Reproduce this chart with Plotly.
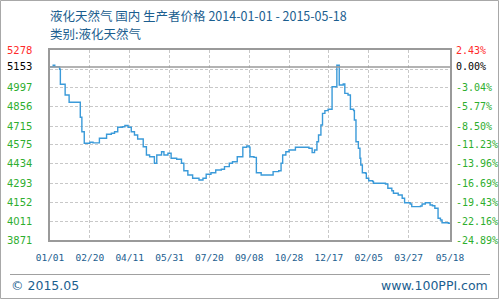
import plotly.graph_objects as go

# ---- data ----
dates = [
    "2014-01-01", "2014-01-05", "2014-01-07", "2014-01-13", "2014-01-14", "2014-01-20", "2014-01-25",
    "2014-02-07", "2014-02-08", "2014-02-10", "2014-02-13", "2014-02-20", "2014-02-24", "2014-03-04",
    "2014-03-13", "2014-03-19", "2014-03-23", "2014-03-27", "2014-04-02", "2014-04-05", "2014-04-09",
    "2014-04-13", "2014-04-17", "2014-04-21", "2014-04-28", "2014-05-02", "2014-05-06", "2014-05-12",
    "2014-05-15", "2014-05-21", "2014-05-24", "2014-05-29", "2014-06-02", "2014-06-09", "2014-06-15",
    "2014-06-18", "2014-06-23", "2014-06-29", "2014-07-07", "2014-07-12", "2014-07-16", "2014-07-22",
    "2014-07-28", "2014-08-04", "2014-08-08", "2014-08-14", "2014-08-18", "2014-08-24", "2014-08-31",
    "2014-09-05", "2014-09-08", "2014-09-09", "2014-09-14", "2014-09-17", "2014-09-23", "2014-10-07",
    "2014-10-08", "2014-10-15", "2014-10-18", "2014-10-20", "2014-10-24", "2014-10-28", "2014-11-05",
    "2014-11-22", "2014-11-26", "2014-11-29", "2014-12-02", "2014-12-04", "2014-12-07", "2014-12-09",
    "2014-12-12", "2014-12-16", "2014-12-21", "2014-12-27", "2014-12-30", "2015-01-04", "2015-01-06",
    "2015-01-10", "2015-01-13", "2015-01-17", "2015-01-18", "2015-01-20", "2015-01-23", "2015-01-25",
    "2015-01-26", "2015-01-28", "2015-02-01", "2015-02-02", "2015-02-05", "2015-02-10", "2015-02-11",
    "2015-02-26", "2015-03-01", "2015-03-06", "2015-03-08", "2015-03-14", "2015-03-19", "2015-03-22",
    "2015-03-29", "2015-03-31", "2015-04-11", "2015-04-13", "2015-04-17", "2015-04-23", "2015-04-26",
    "2015-04-29", "2015-05-03", "2015-05-06", "2015-05-08", "2015-05-16", "2015-05-18",
]
prices = [
    5153, 5165, 5153, 5135, 5024, 4945, 4891,
    4891, 4780, 4673, 4587, 4595, 4590, 4624,
    4654, 4661, 4673, 4706, 4710, 4720, 4706,
    4673, 4649, 4619, 4562, 4500, 4488, 4439,
    4500, 4525, 4500, 4513, 4476, 4469, 4439,
    4384, 4352, 4328, 4315, 4328, 4358, 4369,
    4389, 4395, 4414, 4439, 4451, 4488, 4558,
    4567, 4558, 4488, 4483, 4369, 4352, 4352,
    4377, 4384, 4439, 4500, 4525, 4538, 4558,
    4550, 4518, 4538, 4599, 4649, 4723, 4809,
    4829, 4839, 5006, 5165, 5019, 5026, 4957,
    4945, 4839, 4829, 4760, 4599, 4550, 4476,
    4426, 4369, 4365, 4328, 4310, 4303, 4291,
    4286, 4254, 4236, 4217, 4204, 4180, 4147,
    4138, 4118, 4123, 4138, 4147, 4130, 4125,
    4106, 4032, 4019, 3999, 3995, 3995,
]

base_price = 5153
grid_vals = [5278, 5137, 4997, 4856, 4715, 4575, 4434, 4293, 4152, 4011, 3871]
y_label_vals = [5278, 5153, 4997, 4856, 4715, 4575, 4434, 4293, 4152, 4011, 3871]
y_label_text = ["5278", "5153", "4997", "4856", "4715", "4575", "4434", "4293", "4152", "4011", "3871"]
pct_labels = ["2.43%", "0.00%", "-3.04%", "-5.77%", "-8.50%", "-11.23%", "-13.96%",
              "-16.69%", "-19.43%", "-22.16%", "-24.89%"]
x_tick_dates = ["2014-01-01", "2014-02-20", "2014-04-11", "2014-05-31", "2014-07-20", "2014-09-08",
                "2014-10-28", "2014-12-17", "2015-02-05", "2015-03-27", "2015-05-18"]
x_tick_text = ["01/01", "02/20", "04/11", "05/31", "07/20", "09/08",
               "10/28", "12/17", "02/05", "03/27", "05/18"]

title_line1 = "液化天然气 国内 生产者价格 2014-01-01 - 2015-05-18"
title_line2 = "类别:液化天然气"

BLUE = "#1b5e8f"
RED = "#ff2a2a"
GREEN = "#2eae2e"

fig = go.Figure()
fig.add_trace(go.Scatter(
    x=dates, y=prices, mode="lines", line=dict(color="#3a9ad9", width=1.4, shape="hv"),
    hoverinfo="skip", showlegend=False,
))

W, H = 500, 300
ml, mr, mt, mb = 50, 50, 50, 60
pw, ph = W - ml - mr, H - mt - mb


def px_x(p):
    return (p - ml) / pw


def px_y(p):
    return (H - mb - p) / ph


annotations = []
for i, (v, t, pc) in enumerate(zip(y_label_vals, y_label_text, pct_labels)):
    col = RED if i == 0 else ("#000000" if v == base_price else GREEN)
    annotations.append(dict(x=px_x(5), xref="paper", y=v, yref="y", text=t, showarrow=False,
                            xanchor="left", yanchor="middle",
                            font=dict(family="DejaVu Sans", size=10, color=col)))
    annotations.append(dict(x=px_x(454), xref="paper", y=v, yref="y", text=pc, showarrow=False,
                            xanchor="left", yanchor="middle",
                            font=dict(family="DejaVu Sans Mono", size=10, color=col)))

annotations += [
    dict(x=px_x(48), xref="paper", y=px_y(15.5), yref="paper", text=title_line1, showarrow=False,
         xanchor="left", yanchor="middle", font=dict(family="Noto Sans CJK SC", size=12.5, color=BLUE)),
    dict(x=px_x(48), xref="paper", y=px_y(34), yref="paper", text=title_line2, showarrow=False,
         xanchor="left", yanchor="middle", font=dict(family="Noto Sans CJK SC", size=12.5, color=BLUE)),
    dict(x=px_x(9), xref="paper", y=px_y(285), yref="paper", text="© 2015.05", showarrow=False,
         xanchor="left", yanchor="middle", font=dict(family="DejaVu Sans", size=12.5, color=BLUE)),
    dict(x=px_x(490), xref="paper", y=px_y(285), yref="paper", text="www.100PPI.com", showarrow=False,
         xanchor="right", yanchor="middle", font=dict(family="DejaVu Sans", size=12.5, color=BLUE)),
]

shapes = [
    # base-price line
    dict(type="line", xref="paper", x0=0, x1=1, yref="y", y0=base_price, y1=base_price,
         line=dict(color="#9a9a9a", width=1.5), layer="above"),
    # footer separator
    dict(type="line", xref="paper", x0=px_x(10), x1=px_x(490), yref="paper", y0=px_y(274.5), y1=px_y(274.5),
         line=dict(color="#a0a0a0", width=1)),
    # outer frame
    dict(type="rect", xref="paper", x0=px_x(0.5), x1=px_x(498.5), yref="paper", y0=px_y(298.5), y1=px_y(0.5),
         line=dict(color="#a8a8a8", width=1)),
]

fig.update_layout(
    width=W, height=H,
    margin=dict(l=ml, r=mr, t=mt, b=mb),
    paper_bgcolor="white", plot_bgcolor="white",
    showlegend=False,
    annotations=annotations,
    shapes=shapes,
    xaxis=dict(
        type="date", range=["2014-01-01", "2015-05-18"],
        tickvals=x_tick_dates, ticktext=x_tick_text, ticks="",
        tickfont=dict(family="DejaVu Sans Mono", size=9.5, color=BLUE),
        ticklabelstandoff=8,
        showgrid=True, gridcolor="#c8c8c8", griddash="3px,2px", gridwidth=1,
        showline=True, linecolor="#9a9a9a", linewidth=1.5, mirror=True,
        zeroline=False, fixedrange=True,
    ),
    yaxis=dict(
        range=[3871, 5278], tickvals=grid_vals, showticklabels=False, ticks="",
        showgrid=True, gridcolor="#c8c8c8", griddash="3px,2px", gridwidth=1,
        showline=True, linecolor="#9a9a9a", linewidth=1.5, mirror=True,
        zeroline=False, fixedrange=True,
    ),
)

fig.write_html("out.html")
